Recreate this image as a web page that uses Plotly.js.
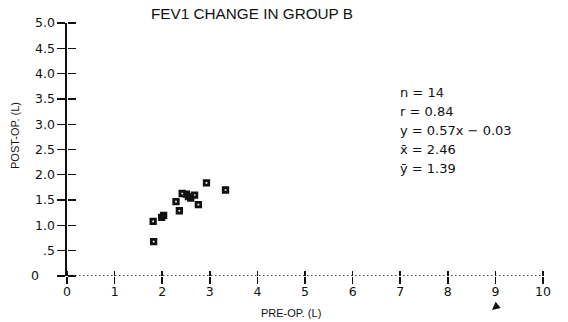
<!DOCTYPE html>
<html>
<head>
<meta charset="utf-8">
<script src="https://cdn.plot.ly/plotly-3.0.1.min.js"></script>
<style>body{margin:0;background:#fff}</style>
</head>
<body>
<div id="chart" style="width:568px;height:322px"></div>
<script>
// Data (FEV1, litres)
const preOp  = [1.81, 1.99, 2.03, 1.82, 2.29, 2.36, 2.42, 2.51, 2.55, 2.60, 2.68, 2.76, 2.93, 3.33];
const postOp = [1.08, 1.16, 1.20, 0.68, 1.47, 1.29, 1.63, 1.62, 1.57, 1.54, 1.60, 1.41, 1.84, 1.70];

const xTickVals = [0, 1, 2, 3, 4, 5, 6, 7, 8, 9, 10];
const yTickVals = [0, 0.5, 1.0, 1.5, 2.0, 2.5, 3.0, 3.5, 4.0, 4.5, 5.0];
const yTickText = ['0\u2007\u2007', '.5', '1.0', '1.5', '2.0', '2.5', '3.0', '3.5', '4.0', '4.5', '5.0'];

const titleText = 'FEV1 CHANGE IN GROUP B';
const xTitle = 'PRE-OP. (L)';
const yTitle = 'POST-OP. (L)';
const statsLines = ['n = 14', 'r = 0.84', 'y = 0.57x \u2212 0.03', 'x\u0304 = 2.46', 'y\u0304 = 1.39'];
const statsY = [3.63, 3.25, 2.87, 2.50, 2.12];

const tickFont = {family: 'DejaVu Sans, sans-serif', size: 12.5, color: '#111'};
const labelFont = {family: 'Liberation Sans, Arial, sans-serif', size: 11, color: '#111'};

const traces = [
  {
    type: 'scatter', mode: 'markers',
    x: preOp, y: postOp,
    marker: {symbol: 'square-open', size: 4.5, color: '#111', line: {width: 2.8, color: '#111'}},
    hoverinfo: 'skip', showlegend: false
  },
  {
    type: 'scatter', mode: 'markers', x: preOp, y: postOp, xaxis: 'x2', yaxis: 'y2',
    marker: {opacity: 0, size: 1}, showlegend: false, hoverinfo: 'skip'
  }
];

const annotations = statsLines.map((t, i) => ({
  xref: 'x', yref: 'y', x: 6.95, y: statsY[i], text: t,
  xanchor: 'left', yanchor: 'middle', showarrow: false,
  font: {family: 'DejaVu Sans, sans-serif', size: 13, color: '#111'}
}));
annotations.push({
  xref: 'paper', yref: 'paper', x: (291 - 67) / 476, y: (276 - 313) / 253,
  text: xTitle, showarrow: false, xanchor: 'center', yanchor: 'middle', font: labelFont
});
annotations.push({
  xref: 'paper', yref: 'paper', x: (15 - 67) / 476, y: (276 - 136) / 253,
  text: yTitle, showarrow: false, textangle: -90, xanchor: 'center', yanchor: 'middle', font: labelFont
});
annotations.push({
  xref: 'paper', yref: 'paper', x: (492 - 67) / 476, y: (276 - 310) / 253,
  text: '', showarrow: true, arrowhead: 2, arrowsize: 1, arrowwidth: 1.6, arrowcolor: '#111',
  ax: 6, ay: -5
});

const layout = {
  width: 568, height: 322,
  margin: {l: 67, r: 25, t: 23, b: 46, pad: 0},
  paper_bgcolor: '#fff', plot_bgcolor: '#fff',
  showlegend: false,
  title: {
    text: titleText, xref: 'container', yref: 'container',
    x: 252 / 568, xanchor: 'center', y: 1 - 14 / 322, yanchor: 'middle',
    font: {family: 'Liberation Sans, Arial, sans-serif', size: 15.3, color: '#111'}
  },
  xaxis: {
    range: [0, 10], showgrid: false, zeroline: false, showline: false,
    tickvals: xTickVals, ticks: 'outside', ticklen: 7, tickwidth: 1.5, tickcolor: '#111',
    tickfont: tickFont, ticklabelstandoff: -3, fixedrange: true
  },
  xaxis2: {
    range: [0, 10], overlaying: 'x', anchor: 'free', position: 0, side: 'top',
    showgrid: false, zeroline: false, showline: false,
    tickvals: xTickVals, ticks: 'outside', ticklen: 5, tickwidth: 1.5, tickcolor: '#111',
    showticklabels: false
  },
  yaxis: {
    range: [0, 5], showgrid: false, zeroline: false, showline: true, linewidth: 1.6, linecolor: '#111',
    tickvals: yTickVals, ticktext: yTickText, ticks: 'outside', ticklen: 8, tickwidth: 1.3, tickcolor: '#111',
    tickfont: tickFont, fixedrange: true
  },
  yaxis2: {
    range: [0, 5], overlaying: 'y', anchor: 'free', position: 0, side: 'right',
    showgrid: false, zeroline: false, showline: false,
    tickvals: yTickVals, ticks: 'outside', ticklen: 8, tickwidth: 1.3, tickcolor: '#111',
    showticklabels: false
  },
  shapes: [{
    type: 'line', xref: 'x', yref: 'y', x0: 0, x1: 10, y0: 0, y1: 0,
    line: {color: '#111', width: 1.4, dash: '1.5px,2.5px'}, layer: 'above'
  }],
  annotations: annotations
};

Plotly.newPlot('chart', traces, layout, {displayModeBar: false, staticPlot: true});
</script>
</body>
</html>
